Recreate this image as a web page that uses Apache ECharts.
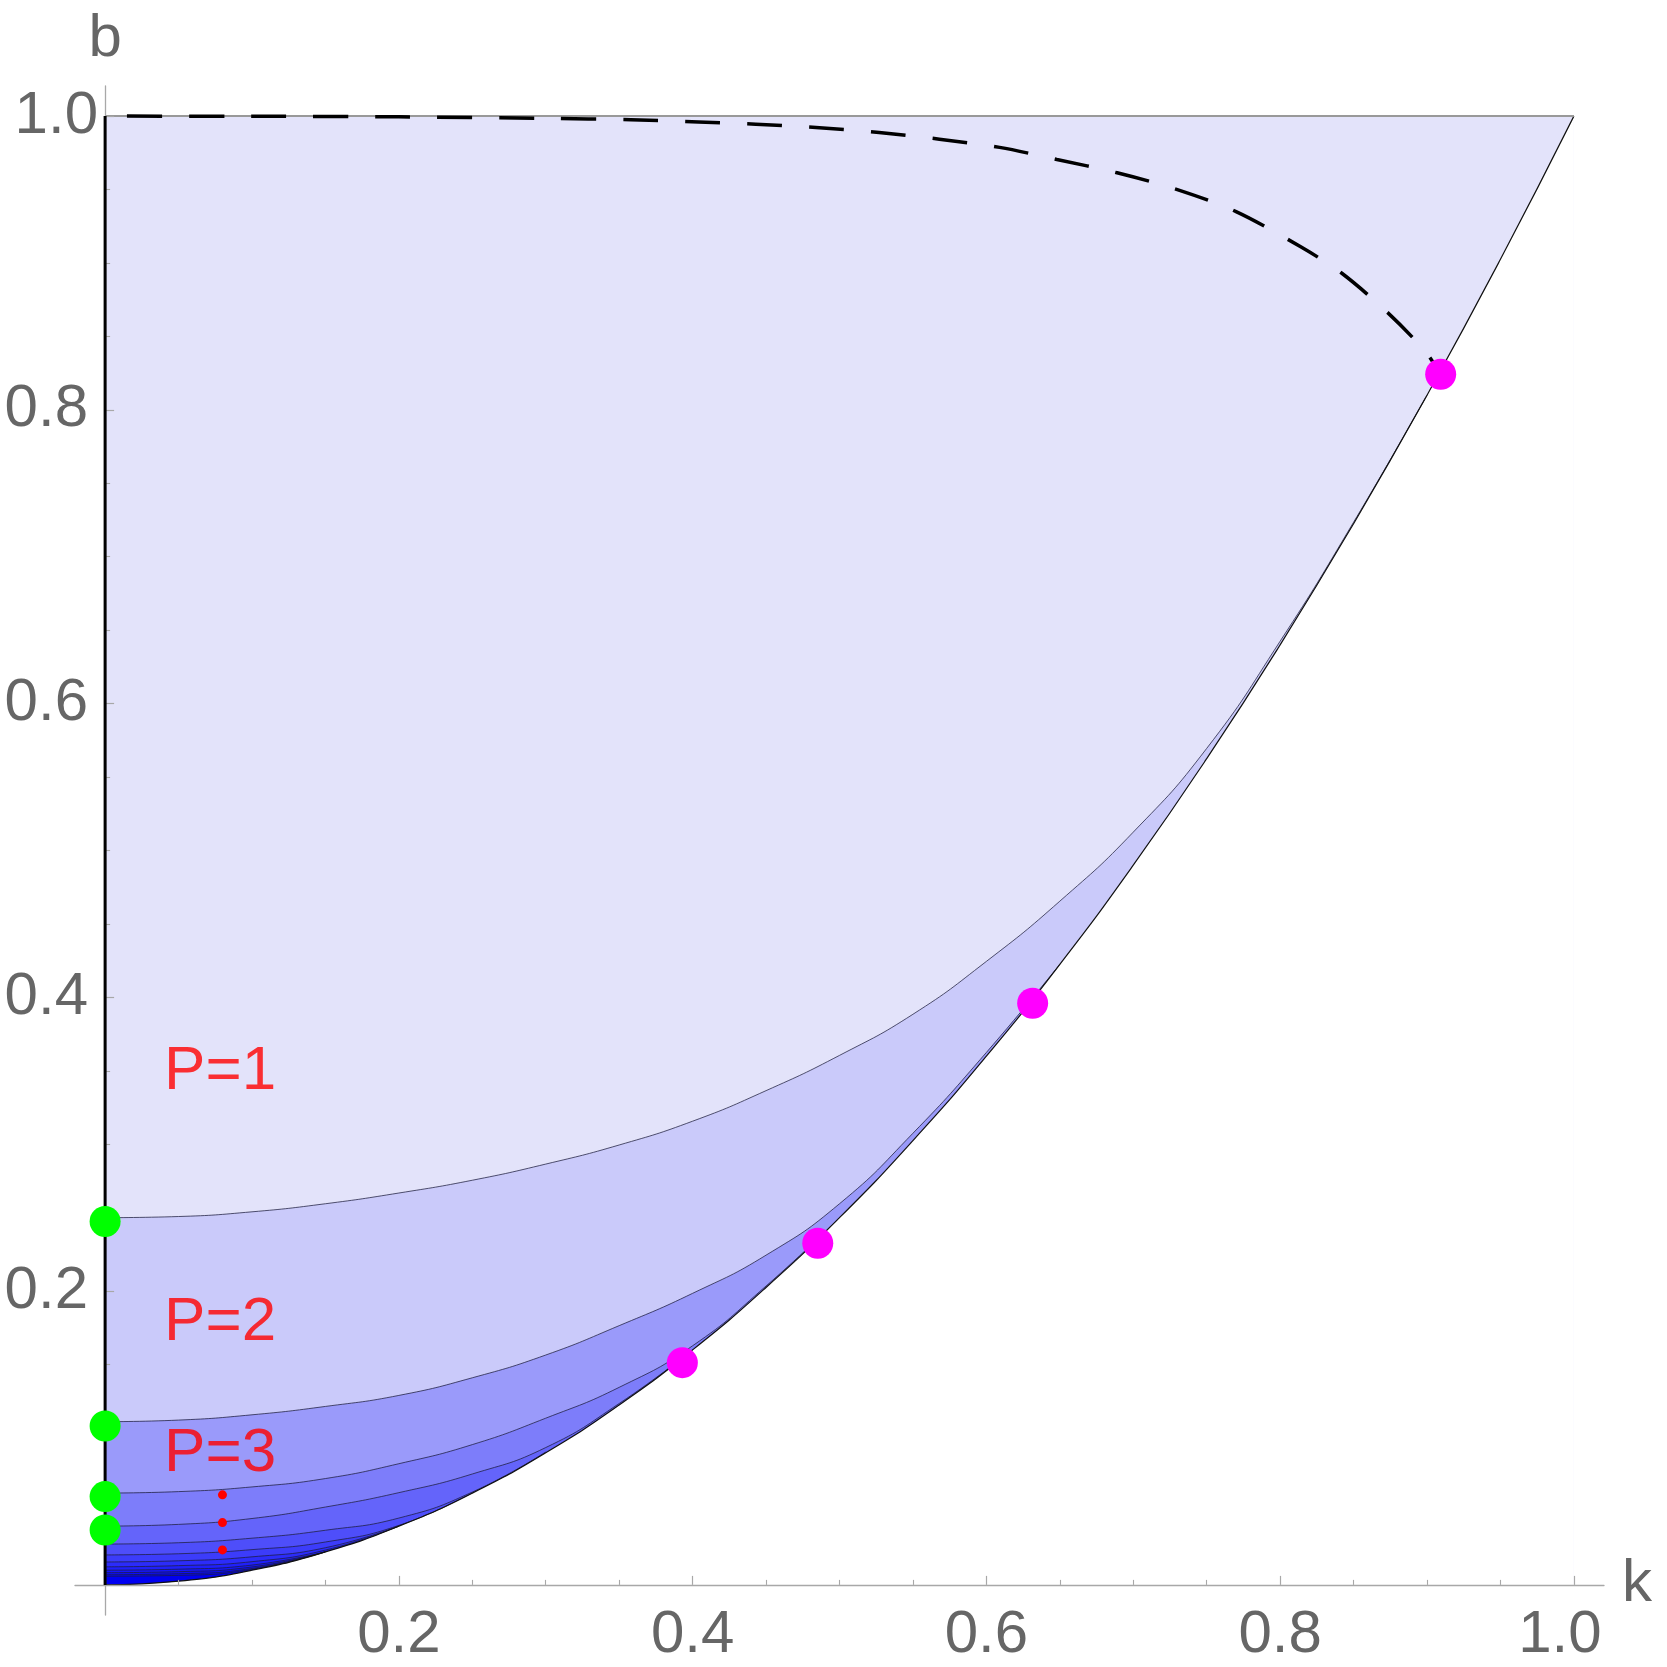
<!DOCTYPE html>
<html lang="en">
<head>
<meta charset="UTF-8">
<title>P regions in the (k, b) plane</title>
<script src="https://cdn.jsdelivr.net/npm/echarts@6/dist/echarts.min.js"></script>
<style>
  html, body { margin: 0; padding: 0; background: #fff; }
  #chart { width: 1667px; height: 1667px; }
</style>
</head>
<body>
<div id="chart"></div>
<script>
// k values shared by every sampled curve below
const kSteps = [0, 0.05, 0.1, 0.15, 0.2, 0.25, 0.3, 0.35, 0.4, 0.45, 0.5,
                0.55, 0.6, 0.65, 0.7, 0.75, 0.8, 0.85, 0.9, 0.95, 1.0];

// lower edge of the shaded region
const lowerEdge = [0, 0.0025, 0.01, 0.0225, 0.04, 0.0625, 0.09, 0.1225, 0.16, 0.2025, 0.25,
                   0.3025, 0.36, 0.4225, 0.49, 0.5625, 0.64, 0.7225, 0.81, 0.9025, 1.0];

// upper edge of the shaded region
const upperEdge = [1, 1, 1, 1, 1, 1, 1, 1, 1, 1, 1, 1, 1, 1, 1, 1, 1, 1, 1, 1, 1];

// borders between P and P+1, read on kSteps until they meet the lower edge
const borders = [
  [0.25, 0.2508, 0.254, 0.2595, 0.2668, 0.2755, 0.2865, 0.2995, 0.3157, 0.3365, 0.3605,
   0.3885, 0.4245, 0.4655, 0.5125, 0.5695, 0.6425, 0.7235, 0.81],
  [0.1111, 0.1122, 0.1158, 0.1215, 0.129, 0.141, 0.1565, 0.1765, 0.1985, 0.2245, 0.2595,
   0.3075, 0.3625, 0.4225],
  [0.0625, 0.0635, 0.0667, 0.0724, 0.0825, 0.0955, 0.1135, 0.1345, 0.1628, 0.2035, 0.25],
  [0.04, 0.0412, 0.0452, 0.053, 0.0628, 0.0755, 0.0935, 0.1235, 0.16],
  [0.0278, 0.0287, 0.0318, 0.0372, 0.0455, 0.0632, 0.0905],
  [0.0204, 0.0212, 0.024, 0.0292, 0.0405, 0.0625],
  [0.0156, 0.0164, 0.0191, 0.0253, 0.04],
  [0.0123, 0.0131, 0.0158, 0.0237, 0.04],
  [0.01, 0.0107, 0.0135, 0.0225],
  [0.0083, 0.009, 0.0122, 0.0225],
  [0.0069, 0.0076, 0.0112, 0.0225],
  [0.0059, 0.0065, 0.0106, 0.0225]
];

// dashed curve
const dashK = [0, 0.1, 0.2, 0.3, 0.358, 0.404, 0.443, 0.484, 0.527, 0.568, 0.609, 0.648,
               0.689, 0.73, 0.77, 0.814, 0.842, 0.873, 0.899, 0.9093];
const dashB = [1.0, 0.9999, 0.9995, 0.9985, 0.9975, 0.996, 0.9945, 0.9923, 0.9889, 0.9843,
               0.9787, 0.9705, 0.9614, 0.95, 0.935, 0.911, 0.893, 0.8664, 0.8396, 0.8242];

// marked points
const magentaPts = [[0.9093, 0.8242], [0.6315, 0.396], [0.4852, 0.2326], [0.393, 0.1513]];
const greenPts = [[0, 0.2474], [0, 0.1082], [0, 0.0601], [0, 0.0374]];
const redDots = [[0.0799, 0.0613], [0.0799, 0.0424], [0.0799, 0.0238]];

// region labels
const regionNames = ['P=1', 'P=2', 'P=3'];
const regionK = [0.0398, 0.0398, 0.0398];
const regionB = [0.349, 0.1786, 0.0894];

// axis ticks
const majorTicks = [0.2, 0.4, 0.6, 0.8, 1.0];
const minorTicks = [0.05, 0.1, 0.15, 0.25, 0.3, 0.35, 0.45, 0.5, 0.55, 0.65, 0.7, 0.75,
                    0.85, 0.9, 0.95];

const bandColors = ['#e3e3fa', '#cacafa', '#9a9afa', '#7d7dfa', '#6464fa', '#4e4efa', '#3c3cfa',
                    '#2c2cfa', '#2020fa', '#1515fa', '#0c0cfa', '#0505fa', '#0000f0'];

const FONT = 'Liberation Sans, Arial, Helvetica, sans-serif';
const AXIS_GRAY = '#a8a8a8';
const LABEL_GRAY = '#666666';

function majorAxis(dim) {
  const isX = dim === 'x';
  const labelStyle = { fontSize: 60, color: LABEL_GRAY, fontFamily: FONT };
  return {
    type: 'value',
    min: -0.0205,
    max: 1.0205,
    position: isX ? 'bottom' : 'left',
    z: 5,
    name: isX ? 'k' : 'b',
    nameLocation: 'end',
    nameGap: isX ? 18 : 17,
    nameTextStyle: labelStyle,
    axisLine: { show: true, onZero: true, lineStyle: { color: AXIS_GRAY, width: 1.3 } },
    axisTick: { show: true, inside: true, length: 9, customValues: majorTicks,
                lineStyle: { color: AXIS_GRAY, width: 1.2 } },
    axisLabel: {
      show: true,
      customValues: majorTicks,
      margin: isX ? -10 : -23,
      fontSize: 60,
      color: LABEL_GRAY,
      fontFamily: FONT,
      formatter: function (v) {
        const s = v.toFixed(1);
        if (isX) return v === 1 ? '{shift|' + s + '}' : s;
        // top label of the b axis sits a little closer to the axis
        return v === 1 ? s : '{shift|' + s + '}';
      },
      rich: {
        shift: Object.assign({ padding: isX ? [0, 28, 0, 0] : [0, 10, 0, 0] }, labelStyle)
      }
    },
    splitLine: { show: false }
  };
}

function minorAxis(dim) {
  const isX = dim === 'x';
  return {
    type: 'value',
    min: -0.0205,
    max: 1.0205,
    position: isX ? 'bottom' : 'left',
    z: 5,
    axisLine: { show: true, onZero: true, onZeroAxisIndex: 0,
                lineStyle: { color: 'rgba(0,0,0,0)', width: 1 } },
    axisTick: { show: true, inside: true, length: 5, customValues: minorTicks,
                lineStyle: { color: AXIS_GRAY, width: 1.1 } },
    axisLabel: { show: false },
    splitLine: { show: false }
  };
}

const chart = echarts.init(document.getElementById('chart'));

// each band is the area under its upper border; later bands paint over earlier ones
const bandSeries = bandColors.map((color, i) => {
  const top = i === 0 ? upperEdge : borders[i - 1];
  return {
    type: 'line',
    data: top.map((b, j) => [kSteps[j], b]),
    smooth: i === 0 ? false : 0.5,
    symbol: 'none',
    silent: true,
    z: 2,
    areaStyle: { color: color, opacity: 1 },
    lineStyle: i === 0 ? { color: '#999', width: 2 } : { color: 'rgba(30,30,60,0.75)', width: 1 }
  };
});

const option = {
  animation: false,
  backgroundColor: '#ffffff',
  grid: { left: 75, right: 63, top: 86, bottom: 52, containLabel: false, outerBoundsMode: 'none' },
  xAxis: [majorAxis('x'), minorAxis('x')],
  yAxis: [majorAxis('y'), minorAxis('y')],
  series: [
    ...bandSeries,
    {
      // blank out everything under the lower edge
      type: 'line',
      data: lowerEdge.map((b, j) => [kSteps[j], b]),
      smooth: 0.5,
      symbol: 'none', silent: true, z: 2,
      areaStyle: { color: '#ffffff', opacity: 1 },
      lineStyle: { color: '#111', width: 1.2 }
    },
    {
      type: 'line',
      data: upperEdge.map((b, j) => [kSteps[j], b]),
      symbol: 'none', silent: true, z: 4,
      lineStyle: { color: '#999', width: 2 }
    },
    {
      type: 'line',
      data: dashK.map((k, j) => [k, dashB[j]]),
      smooth: 0.3,
      symbol: 'none', silent: true, z: 6,
      lineStyle: { color: '#000', width: 3.5, type: [35, 27], dashOffset: 40 }
    },
    {
      type: 'line',
      data: [[0, 0], [0, 1]],
      symbol: 'none', silent: true, z: 8,
      lineStyle: { color: '#000', width: 3 }
    },
    {
      type: 'scatter',
      data: greenPts,
      symbolSize: 31, silent: true, z: 10,
      itemStyle: { color: '#00ff00', opacity: 1 }
    },
    {
      type: 'scatter',
      data: magentaPts,
      symbolSize: 31, silent: true, z: 10,
      itemStyle: { color: '#ff00ff', opacity: 1 }
    },
    {
      type: 'scatter',
      data: redDots,
      symbolSize: 9, silent: true, z: 10,
      itemStyle: { color: '#ff0000', opacity: 1 }
    },
    {
      type: 'scatter',
      data: regionNames.map((n, i) => ({ name: n, value: [regionK[i], regionB[i]] })),
      symbolSize: 1, silent: true, z: 11,
      itemStyle: { color: 'rgba(0,0,0,0)' },
      label: {
        show: true,
        position: 'right',
        distance: 0,
        formatter: '{b}',
        fontSize: 62,
        color: '#ff0000',
        fontFamily: FONT
      }
    }
  ]
};

chart.setOption(option);
window.addEventListener('resize', function () { chart.resize(); });
</script>
</body>
</html>
